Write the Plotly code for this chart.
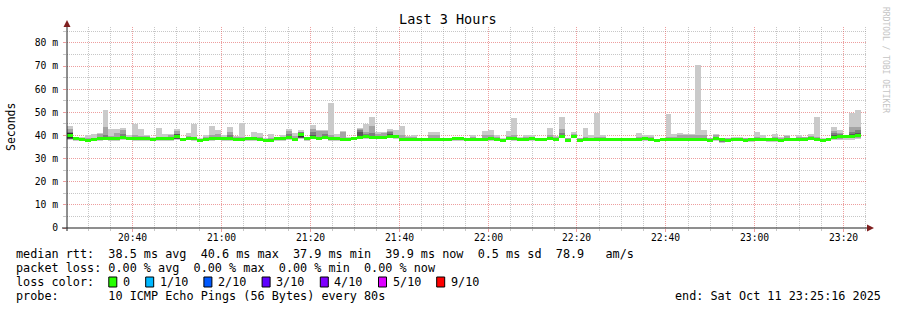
import plotly.graph_objects as go
from datetime import datetime, timedelta

# ---------------- data (milliseconds) ----------------
START = datetime(2025, 10, 11, 20, 25, 16)
END = datetime(2025, 10, 11, 23, 25, 16)
STEP_S = 80

median = [40.2, 38.6, 38.4, 37.9, 38.3, 38.5, 38.8, 38.5, 38.6, 39.0,
          38.7, 38.5, 38.5, 38.6, 38.3, 38.5, 38.5, 38.6, 39.6, 38.2,
          38.8, 38.5, 37.9, 38.4, 38.6, 38.9, 38.6, 38.5, 38.2, 38.2,
          38.5, 38.5, 38.3, 37.9, 37.9, 38.6, 38.6, 39.0, 38.4, 40.6,
          38.6, 39.3, 38.8, 39.3, 38.6, 38.6, 38.3, 38.2, 38.9, 39.2,
          39.4, 39.1, 39.1, 39.3, 39.6, 39.4, 38.3, 38.3, 38.4, 38.2,
          38.2, 38.3, 38.3, 38.2, 38.2, 38.6, 38.6, 38.3, 38.4, 38.2,
          38.4, 38.6, 38.3, 37.9, 38.9, 38.6, 38.4, 38.4, 38.5, 38.3,
          38.3, 38.8, 38.4, 39.5, 37.9, 39.5, 37.9, 38.2, 38.3, 38.3,
          38.3, 38.3, 38.3, 38.3, 38.3, 38.3, 38.4, 38.5, 38.4, 37.9,
          38.2, 38.2, 38.3, 38.2, 38.3, 38.3, 38.3, 38.3, 38.0, 38.5,
          38.1, 38.0, 38.2, 38.2, 38.0, 38.1, 38.3, 38.2, 38.1, 38.1,
          37.9, 38.3, 38.2, 38.3, 38.4, 38.7, 38.3, 38.0, 38.3, 39.0,
          39.4, 39.5, 39.7, 39.9, None]

ping10 = [44.0, 39.2, 39.2, 40.4, 40.6, 41.2, 51.1, 42.8, 42.8, 43.2,
          40.3, 45.0, 42.8, 40.2, 39.2, 43.2, 40.6, 40.8, 42.8, 38.8,
          41.2, 45.0, 38.8, 40.3, 44.1, 42.5, 40.3, 43.6, 39.6, 45.5,
          39.3, 41.4, 41.0, 38.8, 40.6, 39.2, 40.1, 42.8, 41.2, 42.2,
          39.3, 44.7, 42.4, 42.4, 54.2, 40.6, 42.1, 39.5, 39.5, 43.2,
          45.0, 48.1, 41.3, 41.5, 42.9, 42.4, 44.1, 39.6, 40.1, 39.0,
          39.0, 41.5, 41.5, 39.0, 38.9, 39.3, 39.3, 38.9, 40.0, 38.9,
          42.1, 42.4, 40.0, 38.7, 42.1, 47.6, 39.2, 40.0, 40.3, 39.0,
          39.0, 43.2, 39.6, 48.1, 39.0, 41.5, 39.0, 43.2, 40.0, 49.8,
          40.0, 38.9, 38.9, 38.9, 38.9, 38.9, 41.0, 40.0, 40.0, 38.6,
          38.9, 49.4, 40.6, 41.2, 40.6, 40.6, 70.4, 42.4, 39.0, 40.6,
          39.0, 38.8, 39.5, 39.3, 38.8, 38.8, 41.5, 40.0, 38.9, 40.6,
          39.4, 40.0, 38.9, 40.0, 39.5, 40.6, 48.1, 38.7, 38.9, 43.7,
          42.4, 40.2, 49.8, 51.2, None]

ping9 = [42.9, 39.0, 39.0, 38.7, 39.1, 40.5, 43.8, 39.6, 41.0, 42.4,
         39.5, 40.2, 39.6, 39.6, 39.0, 39.5, 39.4, 40.0, 41.8, 38.7,
         39.6, 39.5, 38.6, 39.2, 40.2, 40.5, 39.4, 41.3, 39.3, 39.5,
         39.2, 39.4, 39.4, 38.6, 38.7, 39.1, 39.4, 41.8, 39.6, 41.5,
         39.2, 43.0, 42.0, 41.8, 40.0, 39.4, 41.5, 39.0, 39.4, 43.0,
         41.7, 44.1, 40.5, 41.0, 42.0, 40.2, 40.3, 39.2, 39.2, 38.8,
         38.8, 40.0, 40.0, 38.8, 38.8, 39.2, 39.2, 38.8, 39.2, 38.8,
         40.2, 40.0, 39.2, 38.6, 39.8, 40.0, 39.0, 39.2, 39.3, 38.9,
         38.9, 40.0, 39.2, 42.9, 38.7, 40.5, 38.7, 39.5, 39.1, 39.5,
         39.2, 38.8, 38.8, 38.8, 38.8, 38.8, 39.4, 39.3, 39.2, 38.5,
         38.8, 39.4, 39.2, 40.2, 40.0, 40.2, 40.0, 40.0, 38.7, 40.0,
         38.8, 38.7, 39.0, 39.0, 38.7, 38.7, 39.4, 39.0, 38.8, 39.2,
         38.7, 39.6, 38.8, 39.2, 39.2, 39.6, 39.5, 38.6, 38.8, 42.0,
         41.2, 40.0, 43.5, 43.5, None]

ping8 = [41.3, 39.0, 39.0, 38.5, 38.9, 39.1, 40.0, 39.1, 39.2, 40.5,
         39.3, 39.1, 39.1, 39.2, 38.9, 39.1, 39.1, 39.2, 40.8, 38.7,
         39.4, 39.1, 38.5, 39.0, 39.2, 39.5, 39.2, 40.0, 38.8, 38.8,
         39.1, 39.1, 38.9, 38.5, 38.5, 39.1, 39.2, 40.5, 39.0, 41.3,
         39.2, 41.5, 39.4, 40.8, 39.2, 39.2, 38.9, 38.8, 39.4, 42.5,
         40.8, 41.2, 39.7, 39.9, 41.5, 40.0, 38.9, 38.9, 39.0, 38.8,
         38.8, 38.9, 38.9, 38.8, 38.8, 39.2, 39.2, 38.8, 39.0, 38.8,
         39.0, 39.2, 38.9, 38.5, 39.5, 39.2, 39.0, 39.0, 39.1, 38.9,
         38.9, 39.4, 39.0, 41.2, 38.5, 40.1, 38.5, 38.8, 38.9, 38.9,
         38.9, 38.8, 38.8, 38.8, 38.8, 38.8, 39.0, 39.1, 39.0, 38.5,
         38.8, 38.8, 38.9, 38.8, 38.9, 38.9, 38.9, 38.9, 38.6, 39.1,
         38.7, 38.6, 38.8, 38.8, 38.6, 38.7, 38.9, 38.8, 38.7, 38.7,
         38.5, 38.9, 38.8, 38.9, 39.0, 39.3, 38.9, 38.6, 38.8, 41.2,
         40.6, 40.0, 41.5, 42.2, None]

ping7 = [41.1, 39.0, 38.8, 38.3, 38.7, 38.9, 39.2, 38.9, 39.0, 39.4,
         39.1, 38.9, 38.9, 39.0, 38.7, 38.9, 38.9, 39.0, 40.6, 38.6,
         39.2, 38.9, 38.3, 38.8, 39.0, 39.3, 39.0, 38.9, 38.6, 38.6,
         38.9, 38.9, 38.7, 38.3, 38.3, 39.0, 39.0, 39.4, 38.8, 41.1,
         39.0, 40.2, 39.2, 39.7, 39.0, 39.0, 38.7, 38.6, 39.3, 41.5,
         40.2, 39.5, 39.5, 39.7, 40.8, 39.8, 38.7, 38.7, 38.8, 38.6,
         38.6, 38.7, 38.7, 38.6, 38.6, 39.0, 39.0, 38.7, 38.8, 38.6,
         38.8, 39.0, 38.7, 38.3, 39.3, 39.0, 38.8, 38.8, 38.9, 38.7,
         38.7, 39.2, 38.8, 39.9, 38.3, 39.9, 38.3, 38.6, 38.7, 38.7,
         38.7, 38.7, 38.7, 38.7, 38.7, 38.7, 38.8, 38.9, 38.8, 38.3,
         38.6, 38.6, 38.7, 38.6, 38.7, 38.7, 38.7, 38.7, 38.4, 38.9,
         38.7, 38.4, 38.6, 38.6, 38.4, 38.5, 38.7, 38.6, 38.5, 38.5,
         38.3, 38.7, 38.6, 38.7, 38.8, 39.1, 38.7, 38.4, 38.7, 40.2,
         40.0, 39.9, 40.8, 41.0, None]

ping6 = [41.0, 38.8, 38.6, 38.1, 38.5, 38.7, 39.0, 38.7, 38.8, 39.2,
         38.9, 38.7, 38.7, 38.8, 38.5, 38.7, 38.7, 38.8, 40.4, 38.4,
         39.0, 38.7, 38.1, 38.6, 38.8, 39.1, 38.8, 38.7, 38.4, 38.4,
         38.7, 38.7, 38.5, 38.1, 38.1, 38.8, 38.8, 39.2, 38.6, 41.0,
         38.8, 39.5, 39.0, 39.5, 38.8, 38.8, 38.5, 38.4, 39.1, 39.4,
         39.6, 39.3, 39.3, 39.5, 39.8, 39.6, 38.5, 38.5, 38.6, 38.4,
         38.4, 38.5, 38.5, 38.4, 38.4, 38.8, 38.8, 38.5, 38.6, 38.4,
         38.6, 38.8, 38.5, 38.1, 39.1, 38.8, 38.6, 38.6, 38.7, 38.5,
         38.5, 39.0, 38.6, 39.7, 38.1, 39.7, 38.1, 38.4, 38.5, 38.5,
         38.5, 38.5, 38.5, 38.5, 38.5, 38.5, 38.6, 38.7, 38.6, 38.1,
         38.4, 38.4, 38.5, 38.4, 38.5, 38.5, 38.5, 38.5, 38.2, 38.7,
         38.7, 38.2, 38.4, 38.4, 38.2, 38.3, 38.5, 38.4, 38.3, 38.3,
         38.1, 38.5, 38.4, 38.5, 38.6, 38.9, 38.5, 38.2, 38.5, 39.2,
         39.6, 39.7, 39.9, 40.1, None]

ping5 = [38.7, 38.4, 38.2, 37.7, 38.1, 38.3, 38.6, 38.3, 38.4, 38.8,
         38.5, 38.3, 38.3, 38.4, 38.1, 38.3, 38.3, 38.4, 38.7, 38.0,
         38.6, 38.3, 37.7, 38.2, 38.4, 38.7, 38.4, 38.3, 38.0, 38.0,
         38.3, 38.3, 38.1, 37.7, 37.7, 38.4, 38.4, 38.8, 38.2, 39.2,
         38.4, 39.1, 38.6, 39.1, 38.4, 38.4, 38.1, 38.0, 38.7, 39.0,
         39.2, 38.9, 38.9, 39.1, 39.4, 39.2, 38.1, 38.1, 38.2, 38.0,
         38.0, 38.1, 38.1, 38.0, 38.0, 38.4, 38.4, 38.1, 38.2, 38.0,
         38.2, 38.4, 38.1, 37.7, 38.7, 38.4, 38.2, 38.2, 38.3, 38.1,
         38.1, 38.6, 38.2, 39.3, 37.7, 39.3, 37.7, 38.0, 38.1, 38.1,
         38.1, 38.1, 38.1, 38.1, 38.1, 38.1, 38.2, 38.3, 38.2, 37.7,
         38.0, 38.0, 38.1, 38.0, 38.1, 38.1, 38.1, 38.1, 37.8, 38.3,
         37.5, 37.8, 38.0, 38.0, 37.8, 37.9, 38.1, 38.0, 37.9, 37.9,
         37.7, 38.1, 38.0, 38.1, 38.2, 38.5, 38.1, 37.8, 38.1, 38.8,
         39.2, 39.3, 39.5, 39.7, None]

ping4 = [38.6, 38.3, 38.1, 37.6, 38.0, 38.2, 38.5, 38.2, 38.3, 38.7,
         38.4, 38.2, 38.2, 38.3, 38.0, 38.2, 38.2, 38.3, 38.6, 37.9,
         38.5, 38.2, 37.6, 38.1, 38.3, 38.6, 38.3, 38.2, 37.9, 37.9,
         38.2, 38.2, 38.0, 37.6, 37.6, 38.3, 38.3, 38.7, 38.1, 39.1,
         38.3, 39.0, 38.5, 39.0, 38.3, 38.3, 38.0, 37.9, 38.6, 38.9,
         39.1, 38.8, 38.8, 39.0, 39.3, 39.1, 38.0, 38.0, 38.1, 37.9,
         37.9, 38.0, 38.0, 37.9, 37.9, 38.3, 38.3, 38.0, 38.1, 37.9,
         38.1, 38.3, 38.0, 37.6, 38.6, 38.3, 38.1, 38.1, 38.2, 38.0,
         38.0, 38.5, 38.1, 39.2, 37.6, 39.2, 37.6, 37.9, 38.0, 38.0,
         38.0, 38.0, 38.0, 38.0, 38.0, 38.0, 38.1, 38.2, 38.1, 37.6,
         37.9, 37.9, 38.0, 37.9, 38.0, 38.0, 38.0, 38.0, 37.7, 38.2,
         37.4, 37.7, 37.9, 37.9, 37.7, 37.8, 38.0, 37.9, 37.8, 37.8,
         37.6, 38.0, 37.9, 38.0, 38.1, 38.4, 38.0, 37.7, 38.0, 38.7,
         39.1, 39.2, 39.4, 39.6, None]

ping3 = [38.5, 38.2, 38.0, 37.5, 37.9, 38.1, 38.4, 38.1, 38.2, 38.6,
         38.3, 38.1, 38.1, 38.2, 37.9, 38.1, 38.1, 38.2, 38.5, 37.8,
         38.4, 38.1, 37.5, 38.0, 38.2, 38.5, 38.2, 38.1, 37.8, 37.8,
         38.1, 38.1, 37.9, 37.5, 37.5, 38.2, 38.2, 38.6, 38.0, 39.0,
         38.2, 38.9, 38.4, 38.9, 38.2, 38.2, 37.9, 37.8, 38.5, 38.8,
         39.0, 38.7, 38.7, 38.9, 39.2, 39.0, 37.9, 37.9, 38.0, 37.8,
         37.8, 37.9, 37.9, 37.8, 37.8, 38.2, 38.2, 37.9, 38.0, 37.8,
         38.0, 38.2, 37.9, 37.5, 38.5, 38.2, 38.0, 38.0, 38.1, 37.9,
         37.9, 38.4, 38.0, 39.1, 37.5, 39.1, 37.5, 37.8, 37.9, 37.9,
         37.9, 37.9, 37.9, 37.9, 37.9, 37.9, 38.0, 38.1, 38.0, 37.5,
         37.8, 37.8, 37.9, 37.8, 37.9, 37.9, 37.9, 37.9, 37.6, 38.1,
         37.3, 37.6, 37.8, 37.8, 37.6, 37.7, 37.9, 37.8, 37.7, 37.7,
         37.5, 37.9, 37.8, 37.9, 38.0, 38.3, 37.9, 37.6, 37.9, 38.6,
         39.0, 39.1, 39.3, 39.5, None]

ping2 = [38.4, 38.1, 37.9, 37.4, 37.8, 38.0, 38.3, 38.0, 38.1, 38.5,
         38.2, 38.0, 38.0, 38.1, 37.8, 38.0, 38.0, 38.1, 38.4, 37.7,
         38.3, 38.0, 37.4, 37.9, 38.1, 38.4, 38.1, 38.0, 37.7, 37.7,
         38.0, 38.0, 37.8, 37.4, 37.4, 38.1, 38.1, 38.5, 37.9, 38.9,
         38.1, 38.8, 38.3, 38.8, 38.1, 38.1, 37.8, 37.7, 38.4, 38.7,
         38.9, 38.6, 38.6, 38.8, 39.1, 38.9, 37.8, 37.8, 37.9, 37.7,
         37.7, 37.8, 37.8, 37.7, 37.7, 38.1, 38.1, 37.8, 37.9, 37.7,
         37.9, 38.1, 37.8, 37.4, 38.4, 38.1, 37.9, 37.9, 38.0, 37.8,
         37.8, 38.3, 37.9, 39.0, 37.4, 39.0, 37.4, 37.7, 37.8, 37.8,
         37.8, 37.8, 37.8, 37.8, 37.8, 37.8, 37.9, 38.0, 37.9, 37.4,
         37.7, 37.7, 37.8, 37.7, 37.8, 37.8, 37.8, 37.8, 37.5, 38.0,
         37.2, 37.5, 37.7, 37.7, 37.5, 37.6, 37.8, 37.7, 37.6, 37.6,
         37.4, 37.8, 37.7, 37.8, 37.9, 38.2, 37.8, 37.5, 37.8, 38.5,
         38.6, 38.7, 38.8, 39.0, None]

ping1 = [38.1, 37.8, 37.6, 37.1, 37.5, 37.7, 38.0, 37.7, 37.8, 38.2,
         37.9, 37.7, 37.7, 37.8, 37.5, 37.7, 37.7, 37.8, 38.1, 37.4,
         38.0, 37.7, 37.1, 37.6, 37.8, 38.1, 37.8, 37.7, 37.4, 37.4,
         37.7, 37.7, 37.5, 37.1, 37.1, 37.8, 37.8, 38.2, 37.6, 38.6,
         37.8, 38.5, 38.0, 38.5, 37.8, 37.8, 37.5, 37.4, 38.1, 38.4,
         38.6, 38.3, 38.3, 38.5, 38.8, 38.6, 37.5, 37.5, 37.6, 37.4,
         37.4, 37.5, 37.5, 37.4, 37.4, 37.8, 37.8, 37.5, 37.6, 37.4,
         37.6, 37.8, 37.5, 37.1, 38.1, 37.8, 37.6, 37.6, 37.7, 37.5,
         37.5, 38.0, 37.6, 38.7, 37.1, 38.7, 37.1, 37.4, 37.5, 37.5,
         37.5, 37.5, 37.5, 37.5, 37.5, 37.5, 37.6, 37.7, 37.6, 37.1,
         37.4, 37.4, 37.5, 37.4, 37.5, 37.5, 37.5, 37.5, 37.2, 37.7,
         36.9, 37.2, 37.4, 37.4, 37.2, 37.3, 37.5, 37.4, 37.3, 37.3,
         37.1, 37.5, 37.4, 37.5, 37.6, 37.9, 37.5, 37.2, 37.5, 38.2,
         38.0, 38.2, 38.2, 38.4, None]

y_tick_vals = [0, 10, 20, 30, 40, 50, 60, 70, 80]
y_tick_text = ["0", "10 m", "20 m", "30 m", "40 m", "50 m", "60 m", "70 m", "80 m"]
y_minor_vals = [5, 15, 25, 35, 45, 55, 65, 75, 85]
x_tick_times = ["2025-10-11 20:40:00", "2025-10-11 21:00:00", "2025-10-11 21:20:00",
                "2025-10-11 21:40:00", "2025-10-11 22:00:00", "2025-10-11 22:20:00",
                "2025-10-11 22:40:00", "2025-10-11 23:00:00", "2025-10-11 23:20:00"]
x_tick_text = ["20:40", "21:00", "21:20", "21:40", "22:00", "22:20", "22:40", "23:00", "23:20"]

title_text = "Last 3 Hours"
y_title = "Seconds"
watermark = "RRDTOOL / TOBI OETIKER"
legend_lines = [
    "median rtt:  38.5 ms avg  40.6 ms max  37.9 ms min  39.9 ms now  0.5 ms sd  78.9   am/s",
    "packet loss: 0.00 % avg  0.00 % max  0.00 % min  0.00 % now",
]
loss_labels = ["0", "1/10", "2/10", "3/10", "4/10", "5/10", "9/10"]
loss_colors = ["#26ff00", "#00b8ff", "#0059ff", "#5e00ff", "#7e00ff", "#dd00ff", "#ff0000"]
probe_text = "probe:       10 ICMP Echo Pings (56 Bytes) every 80s"
end_text = "end: Sat Oct 11 23:25:16 2025"

# ---------------- styling ----------------
W, H = 897, 310
PL, PR, PT, PB = 67, 867, 27, 228
Y_MAX = 86.9
FONT = "DejaVu Sans Mono"
GRID = "rgba(143,143,143,0.5)"
MGRID = "rgba(222,79,79,0.55)"
AXIS = "#1f1f1f"
ARROW = "#7f1f1f"
SMOKE = ["#cacaca", "#a4a4a4", "#7e7e7e", "#585858", "#323232"]
MEDIAN_HALF = 0.65
LEG_SIZE = 11.8
CW = 7.1  # legend char width px


def fx(px):
    return (px - PL) / (PR - PL)


def fy(py):
    return (PB - py) / (PB - PT)


def nb(s):
    return s.replace(" ", "\u00a0")


fmt = "%Y-%m-%d %H:%M:%S.%f"
xs = [(START + timedelta(seconds=STEP_S * (i + 0.5))).strftime(fmt) for i in range(len(median))]

fig = go.Figure()
pings = [ping1, ping2, ping3, ping4, ping5, ping6, ping7, ping8, ping9, ping10]
for k in range(5):
    lo, hi = pings[k], pings[9 - k]
    base = [l if (l is not None and h is not None) else None for l, h in zip(lo, hi)]
    hgt = [round(h - l, 3) if (l is not None and h is not None) else None for l, h in zip(lo, hi)]
    fig.add_trace(go.Bar(x=xs, y=hgt, base=base, width=STEP_S * 1000,
                         marker=dict(color=SMOKE[k], line=dict(width=0)),
                         hoverinfo="skip", showlegend=False))

mbase = [m - MEDIAN_HALF if m is not None else None for m in median]
mh = [2 * MEDIAN_HALF if m is not None else None for m in median]
fig.add_trace(go.Bar(x=xs, y=mh, base=mbase, width=STEP_S * 1000,
                     marker=dict(color=loss_colors[0], line=dict(width=0)),
                     hoverinfo="skip", showlegend=False))

fig.update_layout(
    width=W, height=H, autosize=False,
    margin=dict(l=PL, r=W - PR, t=PT, b=H - PB, pad=0),
    paper_bgcolor="white", plot_bgcolor="white",
    barmode="overlay", bargap=0, showlegend=False,
    xaxis=dict(type="date", range=[START.strftime(fmt), END.strftime(fmt)],
               tick0="2025-10-11 20:40:00", dtick=20 * 60 * 1000,
               showticklabels=False,
               showgrid=True, gridcolor=MGRID, griddash="1px,1px", gridwidth=1,
               ticks="outside", ticklen=3, tickcolor=MGRID, tickwidth=1,
               showline=False, zeroline=False, fixedrange=True,
               minor=dict(tick0="2025-10-11 20:00:00", dtick=5 * 60 * 1000,
                          showgrid=True, gridcolor=GRID, griddash="1px,1px", gridwidth=1,
                          ticks="outside", ticklen=2, tickcolor=GRID)),
    yaxis=dict(range=[0, Y_MAX], tickmode="array", tickvals=y_tick_vals, ticktext=y_tick_text,
               showgrid=True, gridcolor=MGRID, griddash="1px,1px", gridwidth=1,
               ticks="outside", ticklen=3, tickcolor=MGRID, tickwidth=1,
               tickfont=dict(family=FONT, size=9.7, color="black"),
               ticklabelstandoff=3,
               showline=False, zeroline=False, fixedrange=True,
               minor=dict(tickmode="array", tickvals=y_minor_vals, showgrid=True,
                          gridcolor=GRID, griddash="1px,1px", gridwidth=1,
                          ticks="outside", ticklen=3, tickcolor=GRID)),
)

shapes = []
# axes
shapes.append(dict(type="line", xref="paper", yref="paper", x0=fx(62), x1=fx(869), y0=0, y1=0,
                   line=dict(color=AXIS, width=1), layer="above"))
shapes.append(dict(type="line", xref="paper", yref="paper", x0=0, x1=0, y0=fy(231), y1=fy(23),
                   line=dict(color=AXIS, width=1), layer="above"))
# arrows
shapes.append(dict(type="path", xref="paper", yref="paper",
                   path=f"M {fx(867)},{fy(224.5)} L {fx(874)},{fy(228)} L {fx(867)},{fy(231.5)} Z",
                   fillcolor=ARROW, line=dict(color=ARROW, width=0), layer="above"))
shapes.append(dict(type="path", xref="paper", yref="paper",
                   path=f"M {fx(63.5)},{fy(27)} L {fx(67)},{fy(20)} L {fx(70.5)},{fy(27)} Z",
                   fillcolor=ARROW, line=dict(color=ARROW, width=0), layer="above"))

ann = []


def text(px, py, s, size, anchor="left", color="black", angle=0):
    ann.append(dict(xref="paper", yref="paper", x=fx(px), y=fy(py), text=nb(s),
                    showarrow=False, xanchor=anchor, yanchor="middle", textangle=angle,
                    borderpad=0, borderwidth=0,
                    font=dict(family=FONT, size=size, color=color)))


# x tick labels placed at their times
for t, lab in zip(x_tick_times, x_tick_text):
    ann.append(dict(xref="x", yref="paper", x=t, y=fy(237.5), text=lab, showarrow=False,
                    xanchor="center", yanchor="middle", borderpad=0, borderwidth=0,
                    font=dict(family=FONT, size=9.7, color="black")))

text(448, 19, title_text, 13.5, anchor="center")
text(11, 127, y_title, 11.5, anchor="center", angle=-90)
text(886, 60, watermark, 8, anchor="center", color="#c4c4c4", angle=90)

ROW_Y = [254, 268, 282, 296]
for i, line in enumerate(legend_lines):
    text(16, ROW_Y[i], line, LEG_SIZE)
text(16, ROW_Y[2], "loss color:", LEG_SIZE)
bx = 108.8
for lab, col in zip(loss_labels, loss_colors):
    shapes.append(dict(type="rect", xref="paper", yref="paper",
                       x0=fx(bx), x1=fx(bx + 8), y0=fy(ROW_Y[2] + 5), y1=fy(ROW_Y[2] - 5),
                       fillcolor=col, line=dict(color="black", width=1), layer="above"))
    lx = bx + 14.2
    text(lx, ROW_Y[2], lab, LEG_SIZE)
    bx = lx + len(lab) * CW + 15.6
text(16, ROW_Y[3], probe_text, LEG_SIZE)
text(881, ROW_Y[3], end_text, LEG_SIZE, anchor="right")

fig.update_layout(shapes=shapes, annotations=ann)
fig.write_html("out.html", config={"displayModeBar": False, "staticPlot": True})
